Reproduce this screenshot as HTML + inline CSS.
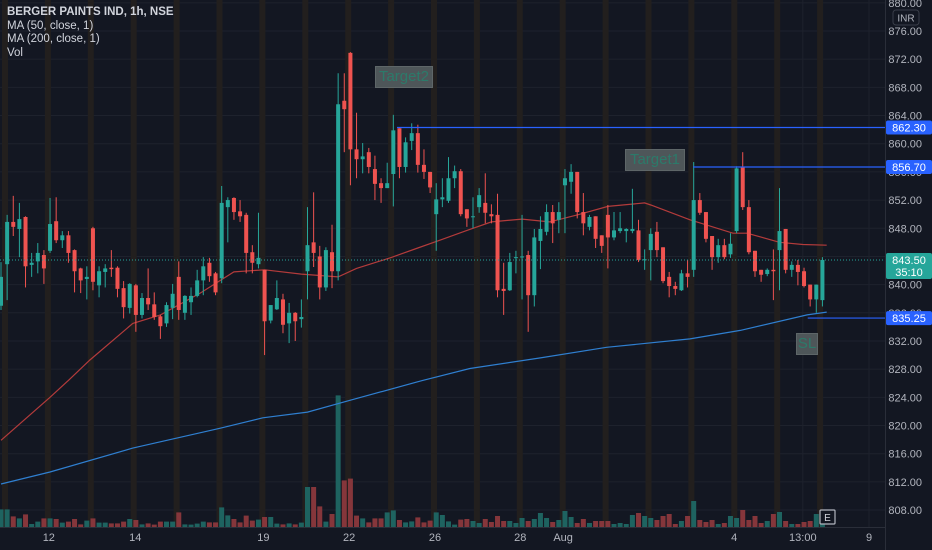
<!DOCTYPE html>
<html><head><meta charset="utf-8"><style>
html,body{margin:0;padding:0;background:#131722;}
#wrap{position:relative;width:932px;height:550px;overflow:hidden;background:#131722;font-family:"Liberation Sans",sans-serif;}
svg{position:absolute;left:0;top:0;}
.legend{position:absolute;left:7px;top:6px;color:#d1d4dc;font-size:11.5px;line-height:13.5px;}
.legend b{font-weight:bold;}
.note{position:absolute;background:#4e5659;border:1px solid #5e6668;color:#2c7a6a;font-size:15px;line-height:20px;text-align:center;box-sizing:border-box;}
</style></head><body>
<div id="wrap">
<svg id="chart" width="932" height="550"></svg>
<div class="legend">
<div><b>BERGER PAINTS IND, 1h, NSE</b></div>
<div>MA (50, close, 1)</div>
<div>MA (200, close, 1)</div>
<div>Vol</div>
</div>
<div class="note" style="left:375px;top:66px;width:58px;height:22px;">Target2</div>
<div class="note" style="left:625px;top:149px;width:60px;height:22px;">Target1</div>
<div class="note" style="left:796px;top:333px;width:22px;height:22px;">SL</div>
</div>
<script>
const openP=[837.0,842.9,848.9,847.9,849.6,842.8,843.3,844.2,844.8,849.0,846.3,847.0,844.9,842.3,840.8,848.0,839.9,841.8,842.4,842.4,839.5,836.7,839.9,835.7,838.1,837.2,835.5,834.5,836.7,841.1,836.0,837.5,838.4,840.6,843.1,841.6,840.9,851.0,852.3,850.4,849.9,844.6,842.9,842.1,834.9,836.5,837.9,834.5,836.0,835.1,841.9,846.0,844.0,839.6,844.6,841.9,866.1,872.9,859.2,857.8,858.8,856.4,854.4,853.7,855.7,862.2,856.7,860.4,861.5,857.0,856.0,850.0,852.1,851.9,855.1,856.1,850.7,849.6,851.0,851.6,850.0,849.9,839.4,839.2,843.8,843.9,844.2,838.5,846.2,847.5,850.3,849.2,854.1,854.6,856.0,850.3,848.2,849.7,847.0,849.9,846.7,847.6,847.6,847.6,847.7,843.5,844.9,847.5,845.3,841.1,839.8,839.2,841.6,842.1,852.0,850.3,846.9,843.9,845.6,844.3,847.6,856.7,851.0,844.8,842.1,841.5,842.1,844.9,847.9,842.1,842.8,841.9,840.0,837.9,837.8];
const closeP=[841.1,848.9,848.2,849.3,842.6,843.1,844.5,842.3,848.6,846.3,847.0,844.5,841.9,840.6,841.1,840.4,841.9,842.3,842.2,839.4,836.8,840.1,835.7,838.1,837.2,835.4,834.1,837.1,838.7,836.4,838.4,838.4,840.6,842.6,841.2,838.9,851.6,852.0,850.3,849.7,844.5,843.1,843.8,834.8,837.1,838.1,834.3,836.0,834.8,835.4,845.6,844.5,839.6,844.9,841.9,865.6,864.9,859.2,857.8,858.2,856.7,854.3,853.7,854.4,861.9,856.7,860.2,861.5,857.0,856.0,853.8,852.1,852.4,855.1,856.1,850.0,849.4,849.7,852.7,850.2,849.7,839.2,839.1,843.2,843.9,844.0,838.5,846.7,847.9,850.3,848.7,850.3,855.1,856.0,850.3,848.7,849.6,846.5,845.5,846.7,847.7,848.0,847.9,847.9,843.5,843.6,847.2,844.9,840.5,839.8,839.4,841.6,841.1,852.0,850.2,846.5,843.9,845.6,843.9,845.8,856.5,851.0,844.6,841.9,841.4,842.1,841.9,847.6,842.1,842.8,841.8,839.8,837.9,840.0,843.5];
const highP=[843.2,849.9,852.6,851.6,849.7,844.5,845.9,844.9,852.3,852.4,847.6,847.6,845.0,842.4,842.6,848.2,842.6,842.9,844.9,842.6,840.5,840.2,840.1,838.8,842.3,838.9,835.7,837.5,840.1,843.3,838.5,839.6,842.1,843.9,843.8,841.8,854.0,852.4,852.4,852.0,850.2,845.6,850.2,842.1,837.1,840.6,838.7,837.4,836.1,837.9,851.0,853.1,845.5,845.3,848.5,870.0,870.0,873.0,864.4,860.1,859.4,858.3,855.1,857.3,864.1,862.2,860.9,862.9,862.7,859.2,856.0,854.4,855.1,858.1,856.9,856.4,850.7,852.4,853.7,855.8,851.4,852.9,843.1,844.5,844.8,849.9,844.8,847.9,849.7,851.4,851.3,851.7,856.4,857.1,856.0,853.0,849.9,849.7,847.0,851.3,850.3,850.3,848.0,853.6,849.2,845.0,848.0,848.9,845.3,841.8,840.4,842.1,843.5,857.4,853.0,850.3,846.9,846.5,846.5,847.3,856.8,858.8,852.0,844.8,842.1,842.3,845.0,853.7,847.9,843.3,843.5,842.4,840.0,840.0,843.9];
const lowP=[836.4,837.8,846.9,843.9,839.6,841.1,841.6,840.1,844.5,845.9,845.2,843.1,838.9,838.8,837.9,839.2,838.2,839.6,841.1,838.2,835.2,835.9,833.3,835.2,836.4,835.0,832.3,834.0,835.1,835.0,835.0,835.7,838.2,838.5,840.4,838.5,840.2,846.0,849.2,848.9,841.6,841.6,842.3,830.0,834.5,836.4,833.1,831.7,832.0,833.9,837.9,842.5,837.9,839.1,839.5,840.6,858.8,854.1,855.1,855.8,855.8,852.0,851.6,853.7,851.1,855.1,855.9,859.1,855.9,855.0,853.0,844.8,851.0,851.6,853.7,849.7,848.2,848.0,850.2,848.7,848.7,838.2,835.7,839.1,841.6,837.9,833.3,836.9,842.2,847.0,845.9,847.3,847.3,852.9,849.4,847.0,847.7,845.2,844.5,842.3,846.3,847.3,846.0,847.3,843.2,842.1,840.6,843.9,840.2,838.2,838.5,839.1,839.6,841.1,849.9,846.0,842.1,843.1,843.6,843.8,847.3,850.6,844.3,841.1,840.4,841.2,837.8,839.2,841.6,841.1,839.9,839.6,836.9,836.0,836.9];
const volumeK=[88,88,53,43,63,15,27,43,43,40,22,27,40,13,32,43,22,22,18,18,27,40,35,13,18,12,27,27,27,73,13,12,17,27,23,23,98,58,40,23,57,32,37,50,50,17,13,18,13,22,200,200,103,27,65,658,233,242,57,43,23,43,43,73,83,35,23,28,48,23,32,73,60,28,12,37,40,30,20,40,25,55,30,30,20,45,30,40,70,45,25,35,80,50,20,40,20,30,30,30,15,20,15,60,70,55,45,35,55,65,15,30,55,130,35,25,35,15,20,55,45,85,35,55,20,30,65,75,30,15,15,25,30,65,20];
const ma50Idx=[0,8,11,14.5,21.5,26,32.5,38,43,49,55,58,63.5,68,71.6,76,80,85,89.5,94,99,105,106,112.4,119.4,121.7,127,130.8,134.7];
const ma50Val=[817.9,824.0,826.4,829.3,834.5,835.7,838.8,841.8,842.1,841.5,841.1,842.3,843.8,845.2,846.3,847.7,848.9,849.3,848.9,849.9,851.1,851.6,851.3,849.2,847.3,847.3,846.0,845.7,845.6];
const ma200Idx=[0,8,21.5,35.7,42.7,50,57,68.8,76.5,88,98.8,112.4,120.6,131.5,134.7];
const ma200Val=[811.7,813.4,816.8,819.6,821.1,821.9,823.6,826.4,828.1,829.6,831.1,832.3,833.5,835.7,836.1];
const priceTicks=[880,876,872,868,864,860,856,852,848,844,840,836,832,828,824,820,816,812,808];
const dateLabels=["12","14","19","22","26","28","Aug","4","13:00","9"];
const dateIdx=[7.8,21.9,42.8,56.8,70.8,84.7,91.7,119.6,130.8,141.6];
const levels=[862.30,856.70,835.25];
const levelStart=[64.6,112.9,131.6];
const lastPrice=843.50;

const NS="http://www.w3.org/2000/svg";
const svg=document.getElementById('chart');
const X=i=>1+6.13*i;
const Y=p=>31+(876-p)*7.045;
const VY=v=>527-v*0.2;
const PLOT_R=885;
function el(tag,attrs,parent){const e=document.createElementNS(NS,tag);for(const k in attrs)e.setAttribute(k,attrs[k]);(parent||svg).appendChild(e);return e;}

const grid=el('g',{});


priceTicks.forEach(p=>{el('line',{x1:0,x2:PLOT_R,y1:Y(p),y2:Y(p),stroke:'#1e222d','stroke-width':1},grid);});
dateIdx.forEach(i=>{el('line',{x1:X(i),x2:X(i),y1:0,y2:527,stroke:'#1e222d','stroke-width':1},grid);});
const bands=el('g',{});


for(let k=0;k<20;k++){const bx=5+42.9*k;el('rect',{x:bx-3,y:0,width:6,height:527,fill:'#221f1e'},bands);}

const vg=el('g',{});


volumeK.forEach((v,i)=>{const up=closeP[i]>=openP[i];const r=el('rect',{x:X(i)-2.5,y:VY(v),width:5,height:527-VY(v),fill:up?'#1e6360':'#85363b'},vg);

});

function line(idx,val,color,name){const pts=idx.map((i,k)=>X(i).toFixed(1)+','+Y(val[k]).toFixed(1)).join(' ');const l=el('polyline',{points:pts,fill:'none',stroke:color,'stroke-width':1.2});

}
line(ma200Idx,ma200Val,'#2f7fd0','ma200-line');
line(ma50Idx,ma50Val,'#b33b3b','ma50-line');

const cg=el('g',{});


openP.forEach((o,i)=>{const c=closeP[i];const up=c>=o;const col=up?'#26a69a':'#ef5350';const x=X(i);
const g=el('g',{},cg);


el('line',{x1:x,x2:x,y1:Y(highP[i]),y2:Y(lowP[i]),stroke:col,'stroke-width':1},g);
const t=Y(Math.max(o,c)),b=Y(Math.min(o,c));el('rect',{x:x-2,y:t,width:4,height:Math.max(1,b-t),fill:col},g);});

const lp=el('line',{x1:0,x2:PLOT_R,y1:Y(lastPrice),y2:Y(lastPrice),stroke:'#26a69a','stroke-width':1,'stroke-dasharray':'1,2'});



levels.forEach((p,k)=>{const l=el('line',{x1:X(levelStart[k]),x2:PLOT_R,y1:Y(p),y2:Y(p),stroke:'#2962ff','stroke-width':1.2});

});

el('line',{x1:PLOT_R+0.5,x2:PLOT_R+0.5,y1:0,y2:550,stroke:'#2a2e39'});
el('line',{x1:0,x2:PLOT_R,y1:527.5,y2:527.5,stroke:'#2a2e39'});
const ax=el('g',{});


priceTicks.forEach(p=>{const t=el('text',{x:922,y:Y(p)+4,'text-anchor':'end','font-size':11,fill:'#b2b5be'},ax);t.textContent=p.toFixed(2);});
el('rect',{x:893,y:10,width:26,height:15,rx:3,fill:'#131722',stroke:'#3a3e49'},ax);
const inr=el('text',{x:906,y:21.5,'text-anchor':'middle','font-size':10,fill:'#b2b5be'},ax);inr.textContent='INR';
levels.forEach(p=>{const g=el('g',{});


el('rect',{x:886,y:Y(p)-7,width:46,height:14,rx:2,fill:'#2962ff'},g);
const t=el('text',{x:909,y:Y(p)+4,'text-anchor':'middle','font-size':11,fill:'#ffffff'},g);t.textContent=p.toFixed(2);});
const lb=el('g',{});


el('rect',{x:886,y:Y(lastPrice)-7,width:46,height:26,rx:2,fill:'#26a69a'},lb);
const l1=el('text',{x:909,y:Y(lastPrice)+4,'text-anchor':'middle','font-size':11,fill:'#ffffff'},lb);l1.textContent=lastPrice.toFixed(2);
const l2=el('text',{x:909,y:Y(lastPrice)+16,'text-anchor':'middle','font-size':11,fill:'#ffffff'},lb);l2.textContent='35:10';

const tx=el('g',{});


dateLabels.forEach((s,k)=>{const t=el('text',{x:X(dateIdx[k]),y:541,'text-anchor':'middle','font-size':11,fill:'#b2b5be'},tx);t.textContent=s;});

const eg=el('g',{});


el('rect',{x:820,y:510,width:15,height:14,rx:1,fill:'#131722',stroke:'#b2b5be','stroke-width':1.2},eg);
const et=el('text',{x:827.5,y:521,'text-anchor':'middle','font-size':10,fill:'#d1d4dc'},eg);et.textContent='E';
</script>
</body></html>
